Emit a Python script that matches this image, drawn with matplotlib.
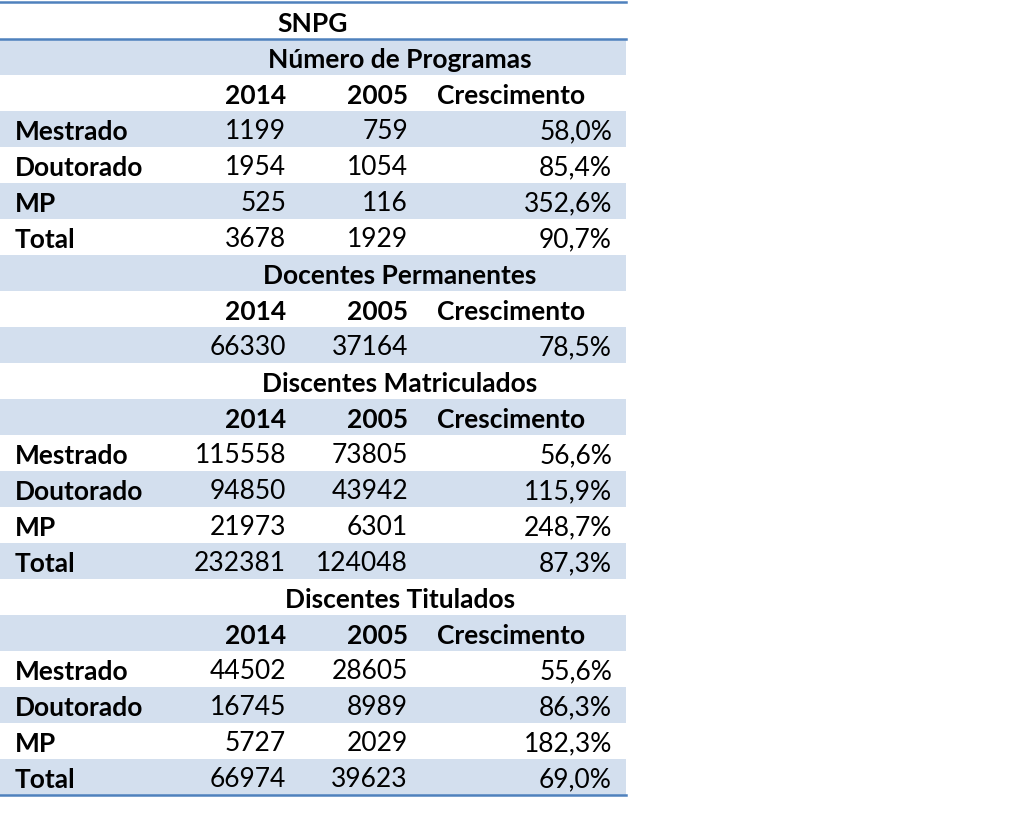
import matplotlib.pyplot as plt
from matplotlib.patches import Rectangle

title = 'SNPG'
years = ['2014', '2005']
growth_label = 'Crescimento'

programas_rows = ['Mestrado', 'Doutorado', 'MP', 'Total']
programas_2014 = [1199, 1954, 525, 3678]
programas_2005 = [759, 1054, 116, 1929]
programas_growth = ['58,0%', '85,4%', '352,6%', '90,7%']

docentes_rows = ['']
docentes_2014 = [66330]
docentes_2005 = [37164]
docentes_growth = ['78,5%']

matriculados_rows = ['Mestrado', 'Doutorado', 'MP', 'Total']
matriculados_2014 = [115558, 94850, 21973, 232381]
matriculados_2005 = [73805, 43942, 6301, 124048]
matriculados_growth = ['56,6%', '115,9%', '248,7%', '87,3%']

titulados_rows = ['Mestrado', 'Doutorado', 'MP', 'Total']
titulados_2014 = [44502, 16745, 5727, 66974]
titulados_2005 = [28605, 8989, 2029, 39623]
titulados_growth = ['55,6%', '86,3%', '182,3%', '69,0%']

sections = [
    ('Número de Programas', programas_rows, programas_2014, programas_2005, programas_growth),
    ('Docentes Permanentes', docentes_rows, docentes_2014, docentes_2005, docentes_growth),
    ('Discentes Matriculados', matriculados_rows, matriculados_2014, matriculados_2005, matriculados_growth),
    ('Discentes Titulados', titulados_rows, titulados_2014, titulados_2005, titulados_growth),
]

shade = '#D3DFEE'
line_col = '#4F81BD'
font = 'Lato'
fs = 19

fig = plt.figure(figsize=(10.24, 8.32), dpi=100)
ax = fig.add_axes([0, 0, 1, 1])
ax.set_xlim(0, 1024)
ax.set_ylim(832, 0)
ax.axis('off')

row_h = 36
top = 3
left, right = 0, 626
x_label, x_2014, x_2005, x_grow_head, x_grow = 15, 286, 408, 437, 612

# build list of rows: (kind, content)
rows = [('title', title)]
for name, labels, v14, v05, gr in sections:
    rows.append(('section', name))
    rows.append(('header', None))
    for lab, a, b, g in zip(labels, v14, v05, gr):
        rows.append(('data', (lab, a, b, g)))

for i, (kind, content) in enumerate(rows):
    y0 = top + i * row_h
    yc = y0 + row_h / 2 + 2.5
    if i % 2 == 1:
        ax.add_patch(Rectangle((left, y0), right - left, row_h, color=shade, lw=0))
    if kind == 'title':
        ax.text((left + right) / 2, yc, content, ha='center', va='center',
                fontsize=fs, fontweight='bold', family=font)
    elif kind == 'section':
        ax.text(400, yc, content, ha='center', va='center',
                fontsize=fs, fontweight='bold', family=font)
    elif kind == 'header':
        ax.text(x_2014, yc, years[0], ha='right', va='center', fontsize=fs, fontweight='bold', family=font)
        ax.text(x_2005, yc, years[1], ha='right', va='center', fontsize=fs, fontweight='bold', family=font)
        ax.text(x_grow_head, yc, growth_label, ha='left', va='center', fontsize=fs, fontweight='bold', family=font)
    else:
        lab, a, b, g = content
        ax.text(x_label, yc, lab, ha='left', va='center', fontsize=fs, fontweight='bold', family=font)
        ax.text(x_2014, yc, str(a), ha='right', va='center', fontsize=fs, family=font)
        ax.text(x_2005, yc, str(b), ha='right', va='center', fontsize=fs, family=font)
        ax.text(x_grow, yc, g, ha='right', va='center', fontsize=fs, family=font)

bottom = top + len(rows) * row_h
ax.plot([left, right], [top - 1, top - 1], color=line_col, lw=1.8)
ax.plot([left, right], [top + row_h, top + row_h], color=line_col, lw=1.8)
ax.plot([left, right], [bottom, bottom], color=line_col, lw=1.8)

fig.savefig('out.png', dpi=100)
